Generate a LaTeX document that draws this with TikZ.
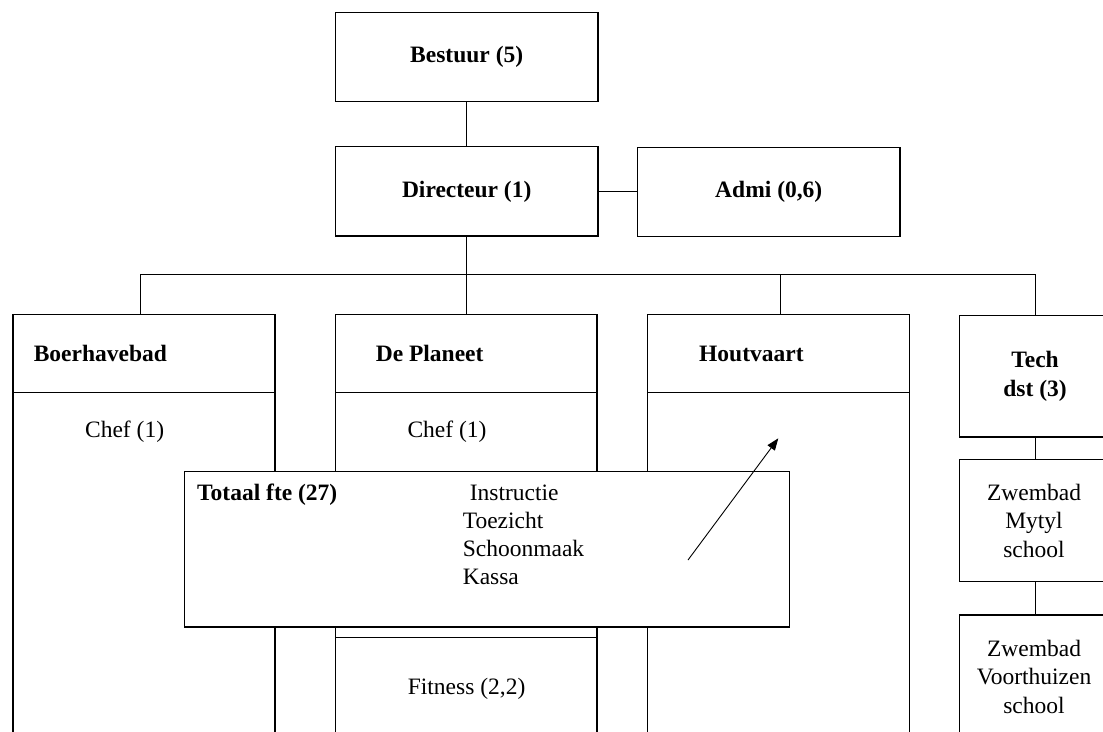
\documentclass[tikz,border=0pt]{standalone}
\usepackage{fontspec}
\setmainfont{Liberation Serif}
\usetikzlibrary{arrows.meta}
\begin{document}
\begin{tikzpicture}[x=1pt,y=-1pt,
  box/.style={draw, line width=1.3pt, fill=white, inner sep=0pt, align=center,
              font=\fontsize{23.5}{29}\selectfont\bfseries},
  lbl/.style={inner sep=0pt, font=\fontsize{23.5}{28.5}\selectfont},
  blbl/.style={inner sep=0pt, font=\fontsize{23.5}{29}\selectfont\bfseries},
  conn/.style={line width=1.3pt},
  arrowline/.style={line width=0.9pt, -{Triangle[length=12pt,width=9pt]}}]
\useasboundingbox (0,0) rectangle (1103,731);
\fill[white] (0,0) rectangle (1103,731);
\clip (0,0) rectangle (1103,731);

% top boxes
\node[box, minimum width=262.6pt, minimum height=89.4pt] (bestuur) at (466.7,57) {Bestuur (5)};
\node[box, minimum width=262.6pt, minimum height=89.3pt] (directeur) at (466.7,191.35) {Directeur (1)};
\node[box, minimum width=262.5pt, minimum height=89pt] (admi) at (768.75,192) {Admi (0,6)};

% location columns: bodies and headers
\node[box, minimum width=262pt, minimum height=377.7pt] (boerB) at (144,581.15) {};
\node[box, minimum width=262pt, minimum height=77.6pt] (boerH) at (144,353.5) {};
\node[box, minimum width=261.6pt, minimum height=377.7pt] (planB) at (466.2,581.15) {};
\node[box, minimum width=261.6pt, minimum height=77.6pt] (planH) at (466.2,353.5) {};
\node[box, minimum width=261.6pt, minimum height=132.7pt] (fitness) at (466.2,703.65) {};
\node[box, minimum width=261.6pt, minimum height=377.7pt] (houtB) at (778.5,581.15) {};
\node[box, minimum width=261.6pt, minimum height=77.6pt] (houtH) at (778.5,353.5) {};

% technical service column
\node[box, minimum width=155.5pt, minimum height=121.5pt] (tech) at (1037.25,376.25) {};
\node[box, minimum width=155.5pt, minimum height=122.4pt] (mytyl) at (1037.25,520.5) {};
\node[box, minimum width=155.5pt, minimum height=155pt] (voort) at (1037.25,692.5) {};

% connectors
\coordinate (busL) at (140.4,274.3);
\coordinate (busH) at (780.4,274.3);
\coordinate (busR) at (1035.3,274.3);
\draw[conn] (bestuur.south) -- (directeur.north);
\draw[conn] (directeur.east) -- (directeur.east -| admi.west);
\draw[conn] (directeur.south) -- (directeur.south |- busL);
\draw[conn] (busL) -- (busR);
\draw[conn] (busL) -- (busL |- boerH.north);
\draw[conn] (planH.north |- busL) -- (planH.north);
\draw[conn] (busH) -- (busH |- houtH.north);
\draw[conn] (busR) -- (busR |- tech.north);
\draw[conn] (busR |- tech.south) -- (busR |- mytyl.north);
\draw[conn] (busR |- mytyl.south) -- (busR |- voort.north);

% labels
\node[blbl, anchor=base west] (tBoer) at (33.6,361) {Boerhavebad};
\node[blbl, anchor=base west] (tPlan) at (375.6,361) {De Planeet};
\node[blbl, anchor=base west] (tHout) at (699,361) {Houtvaart};
\node[lbl, anchor=base] (chef1) at (124.6,437.5) {Chef (1)};
\node[lbl, anchor=base] (chef2) at (447,437.5) {Chef (1)};
\node[lbl, anchor=base] (tfit) at (466.6,694) {Fitness (2,2)};
\node[blbl, align=center] (ttech) at (1035,376) {Tech\\dst (3)};
\node[lbl, align=center] (tmyt) at (1034,520.5) {Zwembad\\Mytyl\\school};
\node[lbl, align=center] (tvoo) at (1034,676.5) {Zwembad\\Voorthuizen\\school};

% overlay total box
\node[box, minimum width=605pt, minimum height=155.7pt] (totaal) at (486.8,549.15) {};
\node[blbl, anchor=base west] (ttot) at (197,500) {Totaal fte (27)};
\node[lbl, anchor=base west] (i1) at (469.7,500) {Instructie};
\node[lbl, anchor=base west] (i2) at (462.6,528) {Toezicht};
\node[lbl, anchor=base west] (i3) at (462.6,556) {Schoonmaak};
\node[lbl, anchor=base west] (i4) at (462.6,584) {Kassa};

% arrow
\coordinate (aS) at (688,560);
\coordinate (aE) at (778.3,438.3);
\draw[arrowline] (aS) -- (aE);
\end{tikzpicture}
\end{document}
